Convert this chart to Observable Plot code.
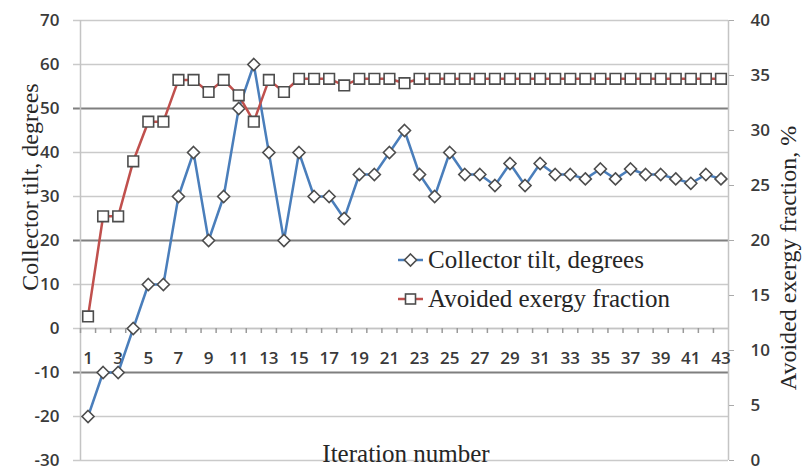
<!DOCTYPE html>
<html><head><meta charset="utf-8">
<script src="https://cdn.jsdelivr.net/npm/d3@7"></script>
<script src="https://cdn.jsdelivr.net/npm/@observablehq/plot@0.6"></script>
<style>
body{margin:0;background:#fff;}
#wrap{position:relative;width:802px;height:468px;overflow:hidden;}
#wrap svg{display:block;}
</style></head><body><div id="wrap"></div>
<script>
const iterations = [1,2,3,4,5,6,7,8,9,10,11,12,13,14,15,16,17,18,19,20,21,22,23,24,25,26,27,28,29,30,31,32,33,34,35,36,37,38,39,40,41,42,43];
const tilt = [-20,-10,-10,0,10,10,30,40,20,30,50,60,40,20,40,30,30,25,35,35,40,45,35,30,40,35,35,32.5,37.5,32.5,37.5,35,35,34,36.25,34,36.25,35,35,34,33,35,34];
const exergy = [13.1,22.2,22.2,27.2,30.8,30.8,34.6,34.6,33.5,34.6,33.2,30.8,34.6,33.5,34.7,34.7,34.7,34.1,34.7,34.7,34.7,34.3,34.7,34.7,34.7,34.7,34.7,34.7,34.7,34.7,34.7,34.7,34.7,34.7,34.7,34.7,34.7,34.7,34.7,34.7,34.7,34.7,34.7];
const leftTicks = [-30,-20,-10,0,10,20,30,40,50,60,70];
const rightTicks = [0,5,10,15,20,25,30,35,40];
const xLabels = [1,3,5,7,9,11,13,15,17,19,21,23,25,27,29,31,33,35,37,39,41,43];
const seriesNames = ["Collector tilt, degrees","Avoided exergy fraction"];
const titles = {left:"Collector tilt, degrees", right:"Avoided exergy fraction, %", bottom:"Iteration number"};

const blue = "#4a7ebb", red = "#c0504d";
const lo = leftTicks[0], hi = leftTicks[leftTicks.length-1];
const rlo = rightTicks[0], rhi = rightTicks[rightTicks.length-1];
const toLeft = r => lo + (r - rlo) * (hi - lo) / (rhi - rlo);
const fromLeft = v => rlo + (v - lo) * (rhi - rlo) / (hi - lo);

const rows = iterations.map((it, i) => ({it, tilt: tilt[i], ex: exergy[i]}));
const bounds = iterations.map(d => d - 0.5);

const chart = Plot.plot({
  width: 802, height: 468,
  marginLeft: 80, marginRight: 74, marginTop: 20, marginBottom: 8,
  style: {fontFamily: "Open Sans", fontSize: "17px", fontWeight: 600, color: "#3a3a3a", background: "white"},
  x: {domain: [iterations[0] - 0.5, iterations[iterations.length-1] + 0.5], axis: null},
  y: {domain: [lo, hi], axis: null},
  marks: [
    Plot.ruleY(leftTicks, {stroke: (d, i) => i % 3 === 2 ? "#7f7f7f" : "#cacaca", strokeWidth: (d, i) => i % 3 === 2 ? 2 : 1.5, insetLeft: -7}),
    Plot.ruleX([iterations[0] - 0.5, iterations[iterations.length-1] + 0.5], {stroke: "#c4c4c4", strokeWidth: 1.5}),
    Plot.ruleY([0], {stroke: "#c4c4c4", strokeWidth: 1.5}),
    Plot.ruleX(bounds, {x: d => d, y1: 0, y2: 0, insetBottom: -5, stroke: "#9a9a9a", strokeWidth: 1.5}),
    Plot.axisY({anchor: "left", ticks: leftTicks, tickSize: 0, tickPadding: 21, label: null, tickFormat: d => String(d), fill: "#3a3a3a"}),
    Plot.axisY({anchor: "right", ticks: rightTicks.map(toLeft), tickSize: 5, tickPadding: 17, label: null, tickFormat: d => String(Math.round(fromLeft(d))), stroke: "#aaaaaa", fill: "#3a3a3a"}),
    Plot.text(xLabels, {x: d => d, y: 0, dy: 30, text: d => String(d), fill: "#3a3a3a"}),
    Plot.line(rows, {x: "it", y: "tilt", stroke: blue, strokeWidth: 2.5}),
    Plot.dot(rows, {x: "it", y: "tilt", symbol: "diamond2", r: 5.4, fill: "white", stroke: "#4d4d4d", strokeWidth: 1.6}),
    Plot.line(rows, {x: "it", y: d => toLeft(d.ex), stroke: red, strokeWidth: 2.5}),
    Plot.dot(rows, {x: "it", y: d => toLeft(d.ex), symbol: "square", r: 6, fill: "white", stroke: "#4d4d4d", strokeWidth: 1.6})
  ]
});
const wrap = document.getElementById("wrap");
wrap.appendChild(chart);

const svg = d3.select(chart);
const serif = "Liberation Serif";
function title(txt, x, y, size, rot) {
  svg.append("text")
    .attr("transform", `translate(${x},${y})` + (rot ? " rotate(-90)" : ""))
    .attr("text-anchor", "middle")
    .attr("font-family", serif).attr("font-size", size).attr("font-weight", 400)
    .attr("fill", "#262626")
    .text(txt);
}
title(titles.left, 38, 187, 24, true);
title(titles.right, 796, 258, 24, true);
title(titles.bottom, 406, 462, 25, false);

// legend
const legCenters = [260, 299];
seriesNames.forEach((name, i) => {
  const g = svg.append("g").attr("transform", `translate(398,${legCenters[i]})`);
  g.append("line").attr("x1", 0).attr("x2", 25).attr("stroke", i === 0 ? blue : red).attr("stroke-width", 2.5);
  if (i === 0) g.append("path").attr("d", "M12.5,-6L18.5,0L12.5,6L6.5,0Z").attr("fill", "white").attr("stroke", "#4d4d4d").attr("stroke-width", 1.6);
  else g.append("rect").attr("x", 7.5).attr("y", -5).attr("width", 10).attr("height", 10).attr("fill", "white").attr("stroke", "#4d4d4d").attr("stroke-width", 1.6);
  g.append("text").attr("x", 30).attr("y", 8).attr("text-anchor", "start").attr("font-family", serif).attr("font-size", 25).attr("font-weight", 400).attr("fill", "#262626").text(name);
});
</script></body></html>
